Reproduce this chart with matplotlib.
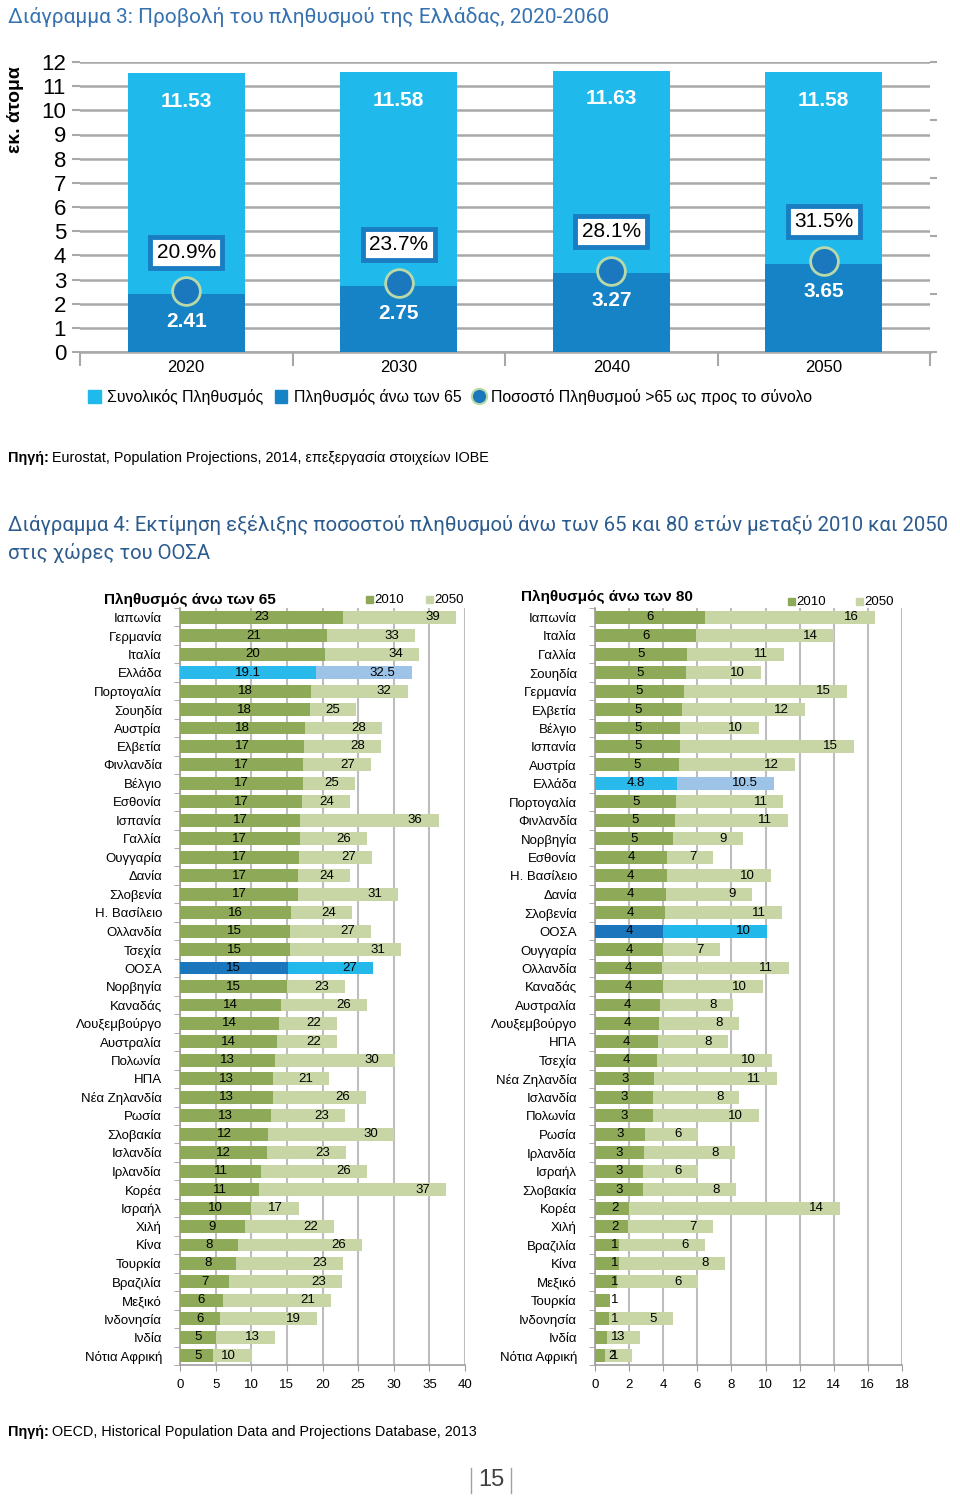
import matplotlib
matplotlib.use("Agg")
import matplotlib.pyplot as plt
import numpy as np
from matplotlib.patches import Patch, Rectangle
from matplotlib.lines import Line2D

W, H = 960, 1498

# ---- Διάγραμμα 3 ----
years = ["2020", "2030", "2040", "2050"]
pop_total = [11.53, 11.58, 11.63, 11.58]
pop_65 = [2.41, 2.75, 3.27, 3.65]
share_65 = [20.9, 23.7, 28.1, 31.5]

# ---- Διάγραμμα 4: άνω των 65 ----
names_65 = ["Ιαπωνία", "Γερμανία", "Ιταλία", "Ελλάδα", "Πορτογαλία", "Σουηδία",
            "Αυστρία", "Ελβετία", "Φινλανδία", "Βέλγιο", "Εσθονία", "Ισπανία",
            "Γαλλία", "Ουγγαρία", "Δανία", "Σλοβενία", "Η. Βασίλειο", "Ολλανδία",
            "Τσεχία", "ΟΟΣΑ", "Νορβηγία", "Καναδάς", "Λουξεμβούργο", "Αυστραλία",
            "Πολωνία", "ΗΠΑ", "Νέα Ζηλανδία", "Ρωσία", "Σλοβακία", "Ισλανδία",
            "Ιρλανδία", "Κορέα", "Ισραήλ", "Χιλή", "Κίνα", "Τουρκία", "Βραζιλία",
            "Μεξικό", "Ινδονησία", "Ινδία", "Νότια Αφρική"]
v65_2010 = [22.9, 20.7, 20.3, 19.1, 18.4, 18.2, 17.6, 17.4, 17.3, 17.2, 17.1, 16.9,
            16.8, 16.7, 16.6, 16.6, 15.6, 15.4, 15.4, 15.1, 15.0, 14.2, 13.9, 13.6,
            13.4, 13.1, 13.1, 12.8, 12.4, 12.2, 11.4, 11.1, 10.0, 9.1, 8.2, 7.8,
            6.9, 6.0, 5.6, 5.0, 4.7]
v65_2050 = [38.7, 33.0, 33.6, 32.5, 31.95, 24.7, 28.3, 28.2, 26.8, 24.6, 23.8, 36.3,
            26.2, 26.9, 23.8, 30.6, 24.1, 26.8, 31.0, 27.1, 23.2, 26.3, 22.1, 22.1,
            30.2, 20.9, 26.1, 23.1, 30.0, 23.3, 26.3, 37.3, 16.7, 21.6, 25.6, 22.9,
            22.7, 21.2, 19.2, 13.4, 10.1]

# ---- Διάγραμμα 4: άνω των 80 ----
names_80 = ["Ιαπωνία", "Ιταλία", "Γαλλία", "Σουηδία", "Γερμανία", "Ελβετία", "Βέλγιο",
            "Ισπανία", "Αυστρία", "Ελλάδα", "Πορτογαλία", "Φινλανδία", "Νορβηγία",
            "Εσθονία", "Η. Βασίλειο", "Δανία", "Σλοβενία", "ΟΟΣΑ", "Ουγγαρία",
            "Ολλανδία", "Καναδάς", "Αυστραλία", "Λουξεμβούργο", "ΗΠΑ", "Τσεχία",
            "Νέα Ζηλανδία", "Ισλανδία", "Πολωνία", "Ρωσία", "Ιρλανδία", "Ισραήλ",
            "Σλοβακία", "Κορέα", "Χιλή", "Βραζιλία", "Κίνα", "Μεξικό", "Τουρκία",
            "Ινδονησία", "Ινδία", "Νότια Αφρική"]
v80_2010 = [6.46, 5.93, 5.42, 5.32, 5.22, 5.1, 5.0, 5.0, 4.9, 4.8, 4.77, 4.7, 4.58,
            4.25, 4.2, 4.15, 4.1, 4.0, 4.0, 3.95, 3.97, 3.8, 3.74, 3.7, 3.66,
            3.48, 3.42, 3.42, 2.95, 2.86, 2.82, 2.82, 2.0, 1.92, 1.4, 1.4, 1.3, 0.9,
            0.8, 0.68, 0.59]
v80_2050 = [16.4, 14.0, 11.07, 9.74, 14.77, 12.3, 9.6, 15.2, 11.7, 10.5, 11.05, 11.3,
            8.65, 6.9, 10.33, 9.2, 10.98, 10.1, 7.3, 11.4, 9.84, 8.1, 8.43, 7.8,
            10.35, 10.66, 8.47, 9.6, 6.03, 8.2, 6.03, 8.26, 14.36, 6.9, 6.44, 7.63,
            6.03, np.nan, 4.56, 2.64, 2.15]

NARROW = ["Liberation Sans Narrow", "Liberation Sans", "DejaVu Sans"]
TITLE_FONT = ["Roboto", "Liberation Sans", "DejaVu Sans"]
plt.rcParams["font.family"] = ["Liberation Sans", "DejaVu Sans"]

GREEN_DARK, GREEN_LIGHT = "#8EAA58", "#C8D6A6"


def fx(px):
    return px / W


def fy(py):
    return 1 - py / H


def px_axes(fig, l, t, r, b):
    return fig.add_axes([fx(l), fy(b), (r - l) / W, (b - t) / H])


fig = plt.figure(figsize=(W / 100, H / 100), dpi=100)
renderer = fig.canvas.get_renderer()


def fit_width(t, target_px):
    # shrink/grow the font so the text spans target_px
    w = t.get_window_extent(renderer=renderer).width
    t.set_fontsize(t.get_fontsize() * target_px / w)
    return t.get_fontsize()


# ================= Διάγραμμα 3 =================
t3 = fig.text(fx(8), fy(17), "Διάγραμμα 3: Προβολή του πληθυσμού της Ελλάδας, 2020-2060",
              color="#3672B0", fontsize=16, family=TITLE_FONT, va="center")
fit_width(t3, 602)

ax1 = px_axes(fig, 80, 62, 930, 352)
x = np.arange(len(years))
ax1.bar(x, pop_total, 0.55, color="#20B9EC", zorder=2)
ax1.bar(x, pop_65, 0.55, color="#1783C7", zorder=3)
ax1.set_xlim(-0.5, len(years) - 0.5)
ax1.set_ylim(0, 12)
ax1.set_yticks(range(0, 13))
ax1.grid(axis="y", color="#A8A8A8", lw=1.8, zorder=0)
ax1.set_axisbelow(True)
for s in ["top", "right", "left"]:
    ax1.spines[s].set_visible(False)
ax1.spines["bottom"].set_color("#A8A8A8")
ax1.spines["bottom"].set_linewidth(1.8)
ax1.set_xticks(x)
ax1.set_xticklabels(years, fontsize=12)
ax1.set_xticks(np.arange(-0.5, len(years)), minor=True)
ax1.tick_params(axis="x", which="major", length=0, pad=6)
ax1.tick_params(axis="x", which="minor", length=10, color="#A8A8A8", width=1.5)
ax1.tick_params(axis="y", length=6, color="#A8A8A8", width=1.5, pad=4, labelsize=16)

for i in x:
    ax1.annotate(f"{pop_total[i]:.2f}", (i, pop_total[i]), xytext=(0, -28),
                 textcoords="offset pixels", ha="center", va="center", color="white",
                 fontsize=15, fontweight="bold", zorder=4)
    ax1.annotate(f"{pop_65[i]:.2f}", (i, pop_65[i]), xytext=(0, -28),
                 textcoords="offset pixels", ha="center", va="center", color="white",
                 fontsize=15, fontweight="bold", zorder=4)

ax2 = ax1.twinx()
ax2.set_ylim(0, 1)
ax2.set_yticks(np.arange(0, 1.01, 0.2))
ax2.set_yticklabels([])
ax2.tick_params(axis="y", length=5, color="#A8A8A8", width=1.5)
for s in ax2.spines.values():
    s.set_visible(False)
share = np.array(share_65) / 100
ax2.plot(x, share, "o", ms=20, mfc="#1B78BE", mec="#B9D9A8", mew=2, ls="none", zorder=5)
for i in x:
    ax2.annotate(f"{share_65[i]:.1f}%", (i, share[i]), xytext=(0, 39),
                 textcoords="offset pixels", ha="center", va="center", fontsize=15,
                 bbox=dict(boxstyle="square,pad=0.3", fc="white", ec="#1A7DC2", lw=3.5))

fig.text(fx(15), fy(110), "εκ. άτομα", rotation=90, fontsize=14, fontweight="bold",
         ha="center", va="center")

handles = [Patch(color="#20B9EC"), Patch(color="#1783C7"),
           Line2D([], [], marker="o", ls="none", ms=11, mfc="#1B78BE", mec="#B9D9A8", mew=1.5)]
fig.legend(handles, ["Συνολικός Πληθυσμός", "Πληθυσμός άνω των 65",
                     "Ποσοστό Πληθυσμού >65 ως προς το σύνολο"],
           loc="center left", bbox_to_anchor=(fx(74), fy(397)), ncol=3, frameon=False,
           handlelength=0.8, handleheight=0.8, handletextpad=0.4, columnspacing=0.7,
           prop={"size": 11.4})


def source_line(y, rest):
    t = fig.text(fx(8), fy(y), "Πηγή:", fontweight="bold", fontsize=10.4, va="center")
    bb = t.get_window_extent(renderer=renderer)
    fig.text(bb.x1 / W + fx(3), fy(y), rest, fontsize=10.4, va="center")


source_line(458, "Eurostat, Population Projections, 2014, επεξεργασία στοιχείων ΙΟΒΕ")

# ================= Διάγραμμα 4 =================
t4 = fig.text(fx(8), fy(525), "Διάγραμμα 4: Εκτίμηση εξέλιξης ποσοστού πληθυσμού άνω των 65 "
              "και 80 ετών μεταξύ 2010 και 2050", color="#2C5B8E", fontsize=16,
              family=TITLE_FONT, va="center")
size4 = fit_width(t4, 944)
fig.text(fx(8), fy(553), "στις χώρες του ΟΟΣΑ", color="#2C5B8E", fontsize=size4,
         family=TITLE_FONT, va="center")


def row_colors(name):
    if name == "Ελλάδα":
        return "#29B9EA", "#9DC3E6"
    if name == "ΟΟΣΑ":
        return "#1B76BC", "#22B8EA"
    return GREEN_DARK, GREEN_LIGHT


def draw_panel(ax, names, v10, v50, xmax, step, title, title_xy, leg_xy):
    y = np.arange(len(names))
    cols = [row_colors(n) for n in names]
    ax.barh(y, v50, height=0.7, color=[c[1] for c in cols], zorder=2)
    ax.barh(y, v10, height=0.7, color=[c[0] for c in cols], zorder=3)
    ax.set_xlim(0, xmax)
    ax.set_ylim(len(names) - 0.5, -0.5)
    ax.set_xticks(np.arange(0, xmax + 0.1, step))
    ax.grid(axis="x", color="#BDBDBD", lw=1.5, zorder=0)
    ax.set_axisbelow(True)
    for s in ["top", "right"]:
        ax.spines[s].set_visible(False)
    for s in ["left", "bottom"]:
        ax.spines[s].set_color("#9E9E9E")
        ax.spines[s].set_linewidth(1.2)
    ax.set_yticks(y)
    ax.set_yticklabels(names, fontsize=9.5)
    ax.set_yticks(np.arange(-0.5, len(names)), minor=True)
    ax.tick_params(axis="y", which="major", length=0, pad=13)
    ax.tick_params(axis="y", which="minor", length=4, color="#9E9E9E")
    ax.tick_params(axis="x", length=4, color="#9E9E9E", labelsize=9.5, pad=6)
    for i, n in enumerate(names):
        fmt = "{:.1f}" if n == "Ελλάδα" else "{:.0f}"
        ax.text(max(v10[i] / 2, 0.065 * xmax), i, fmt.format(v10[i]), ha="center",
                va="center", fontsize=9.5, zorder=5)
        if not np.isnan(v50[i]):
            ax.annotate(fmt.format(v50[i]), (v50[i], i), xytext=(-16, 0),
                        textcoords="offset pixels", ha="right", va="center",
                        fontsize=9.5, zorder=5)
    fig.text(fx(title_xy[0]), fy(title_xy[1]), title, fontsize=11, fontweight="bold",
             va="center")
    for (lx, ly), c, lab in zip(leg_xy, [GREEN_DARK, GREEN_LIGHT], ["2010", "2050"]):
        fig.add_artist(Rectangle((fx(lx - 7), fy(ly + 3)), 7 / W, 7 / H, color=c,
                                 transform=fig.transFigure))
        fig.text(fx(lx + 1), fy(ly), lab, fontsize=9.5, va="center")


ax3 = px_axes(fig, 180, 608, 465, 1365)
draw_panel(ax3, names_65, v65_2010, v65_2050, 40, 5, "Πληθυσμός άνω των 65",
           (104, 600), [(373, 600), (433, 600)])

ax4 = px_axes(fig, 595, 608, 902, 1365)
draw_panel(ax4, names_80, v80_2010, v80_2050, 18, 2, "Πληθυσμός άνω των 80",
           (521, 597), [(795, 602), (863, 602)])

source_line(1432, "OECD, Historical Population Data and Projections Database, 2013")

# page number
fig.text(fx(491), fy(1480), "15", fontsize=17, color="#404040", ha="center", va="center")
for lx in (471, 511):
    fig.add_artist(Line2D([fx(lx), fx(lx)], [fy(1468), fy(1493)], color="#A0A0A0",
                          lw=1, transform=fig.transFigure))

fig.savefig("out.png", dpi=100)
